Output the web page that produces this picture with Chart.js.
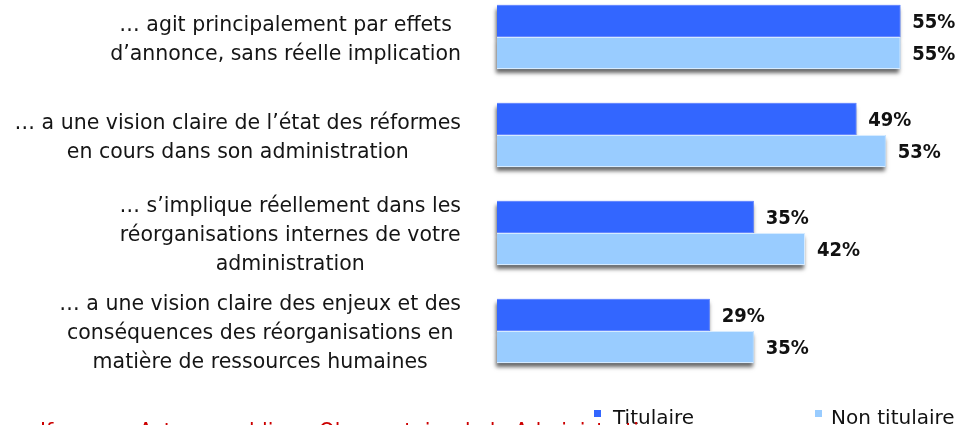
<!DOCTYPE html>
<html><head><meta charset="utf-8">
<script src="https://cdn.jsdelivr.net/npm/chart.js@4/dist/chart.umd.min.js"></script>
<style>
html,body{margin:0;padding:0;background:#fff;overflow:hidden;width:959px;height:425px;}
#wrap{position:absolute;left:0;top:-12px;width:959px;height:437px;}
</style></head>
<body>
<div id="wrap"><canvas id="c" width="959" height="437"></canvas></div>
<script>
const categories = [
  ["… agit principalement par effets", "d’annonce, sans réelle implication"],
  ["… a une vision claire de l’état des réformes", "en cours dans son administration"],
  ["… s’implique réellement dans les", "réorganisations internes de votre", "administration"],
  ["… a une vision claire des enjeux et des", "conséquences des réorganisations en", "matière de ressources humaines"]
];
const seriesNames = ["Titulaire", "Non titulaire"];
const titulaire = [55, 49, 35, 29];
const nonTitulaire = [55, 53, 42, 35];
const sourceText = "Ifop pour Acteurs publics – Observatoire de la Administration";

const FONT_C = "'DejaVu Sans Condensed','DejaVu Sans',sans-serif";
const FONT = "'DejaVu Sans',sans-serif";

// soft drop shadow under each bar group, drawn from the bar elements' geometry
const shadowPlugin = {
  id: 'barShadow',
  beforeDatasetsDraw(chart) {
    const ctx = chart.ctx;
    ctx.save();
    ctx.shadowColor = 'rgba(0,0,0,0.6)';
    ctx.shadowBlur = 4;
    ctx.shadowOffsetX = -1;
    ctx.shadowOffsetY = 4;
    chart.data.datasets.forEach((ds, di) => {
      const meta = chart.getDatasetMeta(di);
      meta.data.forEach(el => {
        const p = el.getProps(['x', 'y', 'base', 'height']);
        ctx.fillStyle = ds.backgroundColor;
        ctx.fillRect(Math.min(p.base, p.x), p.y - p.height / 2, Math.abs(p.x - p.base), p.height);
      });
    });
    ctx.restore();
  }
};

const textPlugin = {
  id: 'texts',
  afterDatasetsDraw(chart) {
    const ctx = chart.ctx;
    const yScale = chart.scales.y;
    ctx.save();
    // value labels
    ctx.font = "bold 20px " + FONT_C;
    ctx.fillStyle = '#111';
    ctx.textAlign = 'left';
    ctx.textBaseline = 'middle';
    chart.data.datasets.forEach((ds, di) => {
      const meta = chart.getDatasetMeta(di);
      meta.data.forEach((el, i) => {
        ctx.fillText(ds.data[i] + '%', el.x + 12, el.y + 2);
      });
    });
    // category labels
    ctx.font = "20.5px " + FONT;
    ctx.fillStyle = '#151515';
    ctx.textAlign = 'center';
    const right = 461, lh = 29;
    chart.data.labels.forEach((lines, i) => {
      const yc = yScale.getPixelForValue(i) + 3;
      const maxW = Math.max(...lines.map(l => ctx.measureText(l).width));
      const cx = right - maxW / 2;
      lines.forEach((l, j) => {
        ctx.fillText(l, cx, yc + (j - (lines.length - 1) / 2) * lh);
      });
    });
    // legend
    ctx.textAlign = 'left';
    ctx.textBaseline = 'alphabetic';
    ctx.font = "20px " + FONT;
    const legX = [594, 815];
    const legT = [613, 831];
    chart.data.datasets.forEach((ds, di) => {
      ctx.fillStyle = ds.backgroundColor;
      ctx.fillRect(legX[di], 410 + 12, 7, 7);
      ctx.fillStyle = '#111';
      ctx.fillText(ds.label, legT[di], 424 + 12);
    });
    // source (cut off at bottom)
    ctx.fillStyle = '#cc0000';
    ctx.font = "20.5px " + FONT;
    ctx.fillText(sourceText, 40, 438 + 12);
    ctx.restore();
  }
};

new Chart(document.getElementById('c'), {
  type: 'bar',
  data: {
    labels: categories,
    datasets: [
      { label: seriesNames[0], data: titulaire, backgroundColor: '#3366FF', borderColor: '#6688FF', borderWidth: 1 },
      { label: seriesNames[1], data: nonTitulaire, backgroundColor: '#99CCFF', borderColor: '#D6EBFF', borderWidth: 1 }
    ]
  },
  options: {
    indexAxis: 'y',
    responsive: false,
    devicePixelRatio: 1,
    animation: false,
    categoryPercentage: 0.655,
    barPercentage: 1.0,
    layout: { padding: { left: 497, right: 22, top: 0, bottom: 45 } },
    plugins: { legend: { display: false }, tooltip: { enabled: false } },
    scales: {
      x: { display: false, min: 0, max: 60 },
      y: { display: false }
    }
  },
  plugins: [shadowPlugin, textPlugin]
});
</script>
</body></html>
